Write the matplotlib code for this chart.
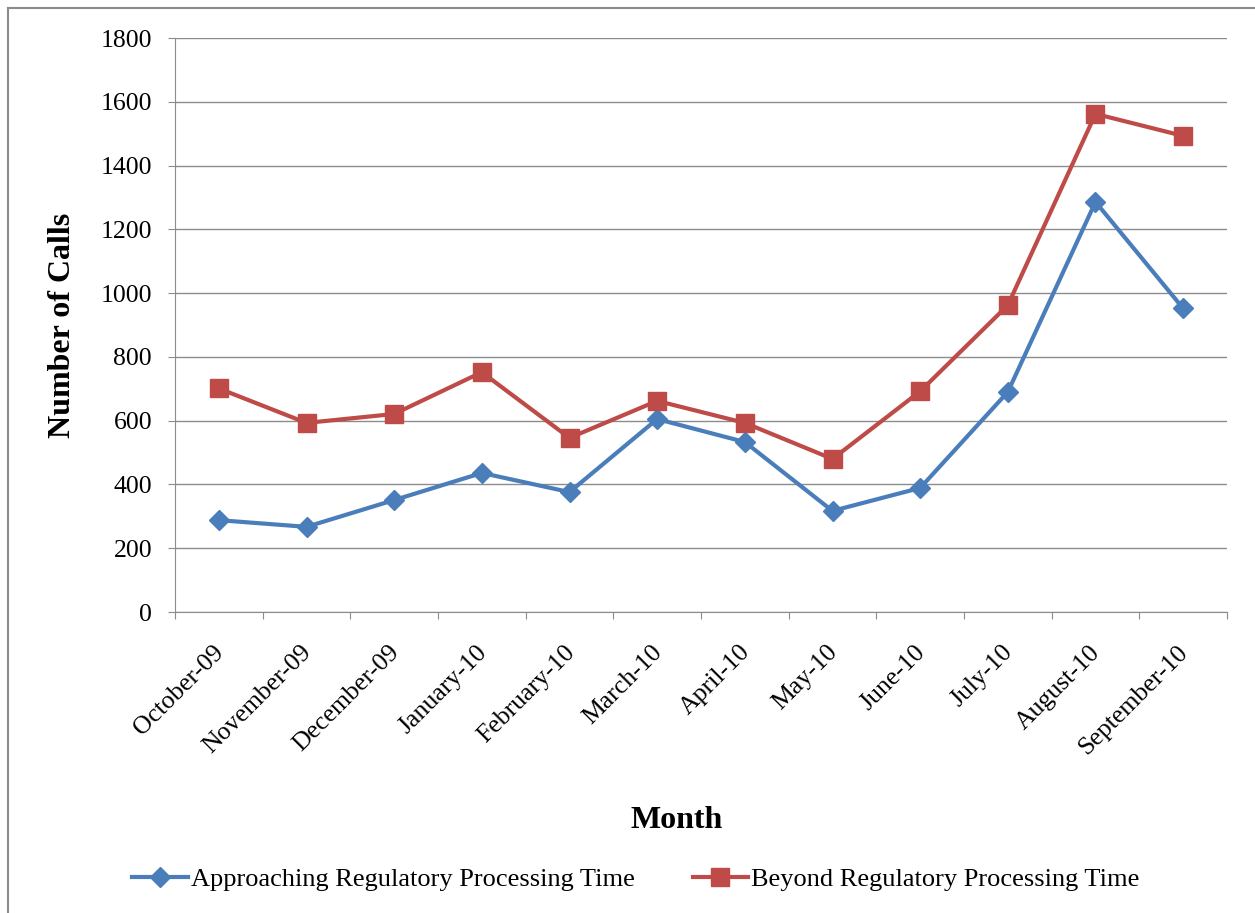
import numpy as np
import matplotlib.pyplot as plt
import matplotlib.transforms as mtransforms
from matplotlib.lines import Line2D

months = ['October-09', 'November-09', 'December-09', 'January-10', 'February-10',
          'March-10', 'April-10', 'May-10', 'June-10', 'July-10', 'August-10',
          'September-10']
approaching = [288, 267, 351, 436, 376, 605, 533, 317, 389, 690, 1286, 952]
beyond = [701, 593, 621, 752, 546, 662, 593, 480, 692, 962, 1562, 1493]

plt.rcParams['font.family'] = ['Liberation Serif', 'DejaVu Serif']

fig = plt.figure(figsize=(12.55, 9.13), dpi=100)
ax = fig.add_axes([175/1255, 1 - 612/913, (1227-175)/1255, (612-38)/913])

x = np.arange(len(months))
ax.plot(x, approaching, color='#4A7EBB', lw=3, marker='D', ms=10,
        label='Approaching Regulatory Processing Time')
ax.plot(x, beyond, color='#BE4B48', lw=3, marker='s', ms=12.5,
        label='Beyond Regulatory Processing Time')

ax.set_xlim(-0.5, len(months) - 0.5)
ax.set_ylim(0, 1800)
ax.set_yticks(range(0, 1801, 200))
ax.yaxis.grid(True, color='#8c8c8c', lw=1)
ax.set_axisbelow(True)
for s in ['top', 'right']:
    ax.spines[s].set_visible(False)
for s in ['left', 'bottom']:
    ax.spines[s].set_color('#8c8c8c')

# tick marks between categories, labels at the centres
ax.set_xticks(np.arange(-0.5, len(months)), minor=False)
ax.set_xticklabels([])
ax.set_xticks(x, minor=True)
ax.set_xticklabels(months, minor=True, rotation=45, ha='right',
                   rotation_mode='anchor', fontsize=18.5)
ax.tick_params(axis='x', which='minor', length=0, pad=21)
ax.tick_params(axis='x', which='major', length=5, color='#8c8c8c', direction='out')
ax.tick_params(axis='y', length=5, color='#8c8c8c', labelsize=18.5, pad=11.5)
shift = mtransforms.ScaledTranslation(-6/100, 0, fig.dpi_scale_trans)
for lab in ax.get_xticklabels(minor=True):
    lab.set_transform(lab.get_transform() + shift)

ax.set_ylabel('Number of Calls', fontsize=23, fontweight='bold', labelpad=17)
fig.text(677/1255, 1 - 820/913, 'Month', fontsize=23, fontweight='bold',
         ha='center', va='center')

fig.legend(loc='center', bbox_to_anchor=(636/1255, 1 - 879/913), ncol=2,
           frameon=False, fontsize=19, handlelength=2.1, columnspacing=2.2,
           handletextpad=0.12)

# outer chart frame (only left and top edges show in the crop)
fig.add_artist(Line2D([8/1255, 8/1255], [0, 1 - 8/913], transform=fig.transFigure,
                      color='#8c8c8c', lw=1.5))
fig.add_artist(Line2D([8/1255, 1], [1 - 8/913, 1 - 8/913], transform=fig.transFigure,
                      color='#8c8c8c', lw=1.5))

fig.savefig('out.png', dpi=100)
